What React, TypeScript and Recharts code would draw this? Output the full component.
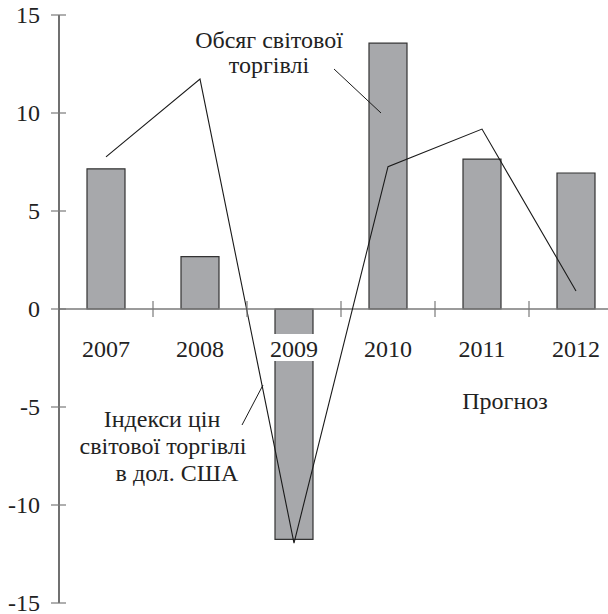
import { ComposedChart, Bar, Line, XAxis, YAxis, ReferenceLine } from 'recharts'

const years = ['2007', '2008', '2009', '2010', '2011', '2012']
const tradeVolume = [7.15, 2.67, -11.75, 13.56, 7.65, 6.94]
const priceIndex = [7.76, 11.73, -11.94, 7.26, 9.18, 0.92]
const yTicks = [-15, -10, -5, 0, 5, 10, 15]

const data = years.map((year, i) => ({ year, volume: tradeVolume[i], price: priceIndex[i] }))

const W = 624
const H = 614
const MARGIN = { top: 15, right: 1, bottom: 0, left: 0 }
const X_AXIS_H = 11
const AXIS_W = 59
const PLOT_H = H - MARGIN.top - MARGIN.bottom - X_AXIS_H
const ZERO_Y = MARGIN.top + PLOT_H / 2
const FONT = "'Liberation Serif', serif"
const GREY = '#7a7a7a'
const textStyle = { fontFamily: FONT, fontSize: 24, fill: '#222' }

function YTick(props: any) {
  const { y, payload } = props
  return (
    <g>
      <line x1={AXIS_W - 8} x2={AXIS_W + 7} y1={y} y2={y} stroke={GREY} strokeWidth={1.2} />
      <text x={40} y={y} dy="0.32em" textAnchor="end" style={textStyle}>
        {payload.value}
      </text>
    </g>
  )
}

function XTick(props: any) {
  const { x, payload, index } = props
  const half = payload.offset || 47
  return (
    <g>
      <rect x={x - 21} y={ZERO_Y + 25} width={42} height={27} fill="#fff" />
      {index < years.length - 1 && (
        <line x1={x + half} x2={x + half} y1={ZERO_Y - 8} y2={ZERO_Y + 8} stroke={GREY} strokeWidth={1.2} />
      )}
      <text x={x} y={ZERO_Y + 48} textAnchor="middle" style={textStyle}>
        {payload.value}
      </text>
    </g>
  )
}

function App() {
  return (
    <div
      style={{
        position: 'absolute', left: 0, top: 0, width: 608, height: 614,
        overflow: 'hidden', background: '#fff', fontFamily: FONT,
      }}
    >
      <ComposedChart width={W} height={H} data={data} margin={MARGIN}>
        <YAxis
          domain={[-15, 15]}
          ticks={yTicks}
          width={AXIS_W}
          axisLine={{ stroke: '#111', strokeWidth: 1.2 }}
          tickLine={false}
          tick={<YTick />}
          interval={0}
        />
        <ReferenceLine y={0} stroke={GREY} strokeWidth={1.5} />
        <Bar dataKey="volume" barSize={38} fill="#a7a8ab" stroke="#333" strokeWidth={1.2} isAnimationActive={false} />
        <Line type="linear" dataKey="price" stroke="#1a1a1a" strokeWidth={1.1} dot={false} isAnimationActive={false} />
        <XAxis dataKey="year" height={X_AXIS_H} axisLine={false} tickLine={false} tick={<XTick />} interval={0} />
      </ComposedChart>
      <svg width={608} height={614} style={{ position: 'absolute', left: 0, top: 0, pointerEvents: 'none' }}>
        <g textAnchor="middle">
          <text x={269} y={48} style={textStyle}>Обсяг світової</text>
          <text x={269} y={73} style={textStyle}>торгівлі</text>
          <text x={162} y={427} style={textStyle}>Індекси цін</text>
          <text x={163} y={454} style={textStyle}>світової торгівлі</text>
          <text x={177} y={481} style={textStyle}>в дол. США</text>
          <text x={505} y={409} style={textStyle}>Прогноз</text>
        </g>
        <line x1={334} y1={69} x2={381} y2={113} stroke="#1a1a1a" strokeWidth={1} />
        <line x1={242} y1={425} x2={263} y2={385} stroke="#1a1a1a" strokeWidth={1} />
      </svg>
    </div>
  )
}

export default App
